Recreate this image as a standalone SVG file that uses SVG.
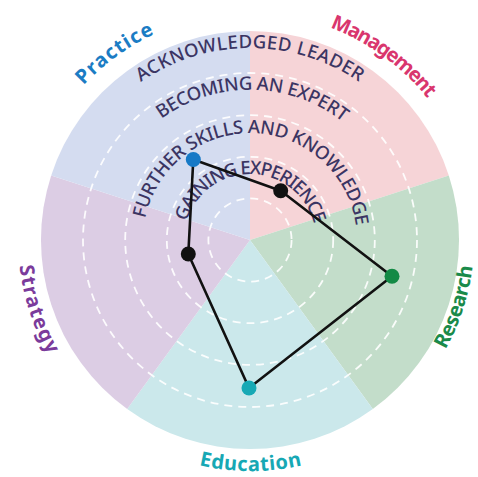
<svg xmlns="http://www.w3.org/2000/svg" width="478" height="477" viewBox="0 0 478 477">
<style>
.ring{fill:none;stroke:#ffffff;stroke-width:1.8;stroke-dasharray:8 6;opacity:0.9}
.lvl{font-family:"Noto Sans","Liberation Sans",sans-serif;font-size:18.5px;font-weight:500;fill:#3b3563;text-anchor:middle}
.cat{font-family:"Noto Sans","Liberation Sans",sans-serif;font-size:20px;font-weight:700;text-anchor:middle}
.edge{fill:none;stroke:#111111;stroke-width:2.6;stroke-linejoin:round}
.dot{stroke:none}
</style>
<defs>
<path id="p4" d="M60.9,273.3 A192,192 0 1 1 439.1,273.3"/>
<path id="p3" d="M102.3,266 A150,150 0 1 1 397.7,266"/>
<path id="p2" d="M144.6,258.6 A107,107 0 1 1 355.4,258.6"/>
<path id="p1" d="M185,251.5 A66,66 0 1 1 315,251.5"/>
<path id="pPr" d="M24.2,263.7 A227,227 0 0 1 342.3,32.6"/>
<path id="pMa" d="M157.7,32.6 A227,227 0 0 1 475.8,263.7"/>
<path id="pRe" d="M296.6,459.1 A224,224 0 0 0 416.5,90.1"/>
<path id="pEd" d="M50.1,356 A232,232 0 0 0 450.9,356"/>
<path id="pSt" d="M77.6,84.8 A232,232 0 0 0 201.8,466.9"/>
</defs>
<g id="wheel">
<path id="sector-management" d="M250,240 L250,31 A209,209 0 0 1 448.8,175.4 Z" fill="#f6d4d7"/>
<path id="sector-research" d="M250,240 L448.8,175.4 A209,209 0 0 1 372.8,409.1 Z" fill="#c3ddca"/>
<path id="sector-education" d="M250,240 L372.8,409.1 A209,209 0 0 1 127.2,409.1 Z" fill="#cbe8eb"/>
<path id="sector-strategy" d="M250,240 L127.2,409.1 A209,209 0 0 1 51.2,175.4 Z" fill="#dccde4"/>
<path id="sector-practice" d="M250,240 L51.2,175.4 A209,209 0 0 1 250,31 Z" fill="#d4dcf0"/>
<circle class="ring" cx="250" cy="240" r="41.6"/>
<circle class="ring" cx="250" cy="240" r="83.2"/>
<circle class="ring" cx="250" cy="240" r="124.8"/>
<circle class="ring" cx="250" cy="240" r="167"/>
</g>
<g id="levels">
<text class="lvl"><textPath href="#p4" startOffset="50%" textLength="232" lengthAdjust="spacing">ACKNOWLEDGED LEADER</textPath></text>
<text class="lvl"><textPath href="#p3" startOffset="50.5%" textLength="195" lengthAdjust="spacing">BECOMING AN EXPERT</textPath></text>
<text class="lvl"><textPath href="#p2" startOffset="51%" textLength="300" lengthAdjust="spacing">FURTHER SKILLS AND KNOWLEDGE</textPath></text>
<text class="lvl"><textPath href="#p1" startOffset="50.5%" textLength="172" lengthAdjust="spacing">GAINING EXPERIENCE</textPath></text>
</g>
<g id="labels">
<text id="label-practice" class="cat" fill="#1b7cc4"><textPath href="#pPr" startOffset="50%" textLength="88" lengthAdjust="spacing">Practice</textPath></text>
<text id="label-management" class="cat" fill="#d9366e"><textPath href="#pMa" startOffset="50%" textLength="122" lengthAdjust="spacing">Management</textPath></text>
<text id="label-research" class="cat" fill="#1a8a4a"><textPath href="#pRe" startOffset="50%" textLength="88" lengthAdjust="spacing">Research</textPath></text>
<text id="label-education" class="cat" fill="#17a8b4"><textPath href="#pEd" startOffset="50%" textLength="104" lengthAdjust="spacing">Education</textPath></text>
<text id="label-strategy" class="cat" fill="#7b3b9b"><textPath href="#pSt" startOffset="50%" textLength="94" lengthAdjust="spacing">Strategy</textPath></text>
</g>
<g id="connectors">
<polygon class="edge" points="193.3,159.5 280.7,190.7 392,276.3 249,388 188.3,254"/>
</g>
<g id="node-practice"><circle class="dot" cx="193.3" cy="159.5" r="7.5" fill="#1679c6"/></g>
<g id="node-management"><circle class="dot" cx="280.7" cy="190.7" r="7.5" fill="#111111"/></g>
<g id="node-research"><circle class="dot" cx="392" cy="276.3" r="7.5" fill="#138a45"/></g>
<g id="node-education"><circle class="dot" cx="249" cy="388" r="7.5" fill="#17a9b5"/></g>
<g id="node-strategy"><circle class="dot" cx="188.3" cy="254" r="7.5" fill="#111111"/></g>
</svg>
